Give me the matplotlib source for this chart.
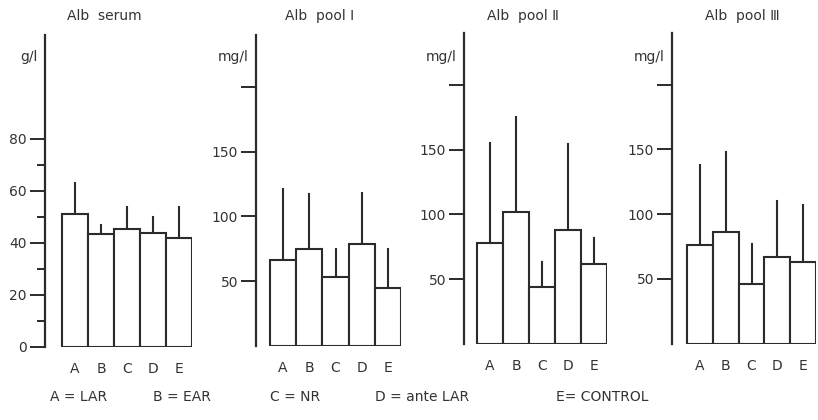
import matplotlib.pyplot as plt
import numpy as np

# Albumin means and upper error values per group
groups = ["A", "B", "C", "D", "E"]
titles = ["Alb  serum", "Alb  pool Ⅰ", "Alb  pool Ⅱ", "Alb  pool Ⅲ"]
units = ["g/l", "mg/l", "mg/l", "mg/l"]

serum_mean = [51, 43.5, 45.5, 44, 42]
serum_top = [63, 47, 54, 50, 54]
pool1_mean = [66, 75, 53, 79, 44.5]
pool1_top = [121, 117, 75, 118, 75]
pool2_mean = [78, 102, 44, 88, 62]
pool2_top = [155, 175, 63, 154, 82]
pool3_mean = [76, 86.5, 46, 66.5, 63]
pool3_top = [138, 148, 77, 110, 107]

means = [serum_mean, pool1_mean, pool2_mean, pool3_mean]
tops = [serum_top, pool1_top, pool2_top, pool3_top]

legend_items = ["A = LAR", "B = EAR", "C = NR", "D = ante LAR", "E= CONTROL"]

W, H = 818, 420
fig = plt.figure(figsize=(W / 100, H / 100), dpi=100)
plt.rcParams['font.family'] = ['DejaVu Sans']
ink = "#2b2b2b"
txt = "#333333"

# per panel: spine x, zero y, top y, right x of last bar, gap before first bar (px)
layout = [
    (45, 347, 35, 192, 17),
    (256, 346, 35, 401, 14),
    (464, 344, 33, 607, 13),
    (672, 343.5, 33, 816, 15),
]
ymax = [120, 240, 240, 240]
yticks = [[0, 20, 40, 60, 80], [50, 100, 150, 200], [50, 100, 150, 200], [50, 100, 150, 200]]
yticklabels = [["0", "20", "40", "60", "80"], ["50", "100", "150", ""],
               ["50", "100", "150", ""], ["50", "100", "150", ""]]
title_x = [104, 320, 523, 742]

x = np.arange(len(groups))
for i in range(4):
    sx, y0, ytop, xr, gap = layout[i]
    w = xr - sx
    unit = (w - gap) / 5.0
    ax = fig.add_axes([sx / W, (H - y0) / H, w / W, (y0 - ytop) / H])
    ax.bar(x, means[i], width=1.0, color="white", edgecolor=ink, linewidth=1.5, zorder=2)
    for xi, m, t in zip(x, means[i], tops[i]):
        ax.plot([xi, xi], [m, t], color=ink, linewidth=1.5, zorder=1)
    ax.set_xlim(-0.5 - gap / unit, 4.5)
    ax.set_ylim(0, ymax[i])
    for s in ["top", "right", "bottom"]:
        ax.spines[s].set_visible(False)
    ax.spines["left"].set_linewidth(1.6)
    ax.spines["left"].set_color(ink)
    ax.set_yticks(yticks[i])
    ax.set_yticklabels(yticklabels[i], fontsize=10, color=txt)
    if i == 0:
        ax.set_yticks([10, 30, 50, 70], minor=True)
    ax.tick_params(axis="y", which="major", length=11, width=1.4, color=ink, pad=2)
    ax.tick_params(axis="y", which="minor", length=6, width=1.4, color=ink)
    ax.set_xticks(x)
    ax.set_xticklabels(groups, fontsize=10, color=txt)
    ax.tick_params(axis="x", length=0, pad=11)
    ax.patch.set_alpha(0)
    fig.text((sx - 7) / W, 1 - 57 / H, units[i], ha="right", va="center",
             fontsize=10, color=txt)
    fig.text(title_x[i] / W, 1 - 16 / H, titles[i], ha="center", va="center",
             fontsize=10, color=txt)

legend_x = [50, 153, 270, 375, 556]
for lx, item in zip(legend_x, legend_items):
    fig.text(lx / W, 1 - 397 / H, item, ha="left", va="center", fontsize=10, color=txt)

fig.savefig("out.png", dpi=100)
